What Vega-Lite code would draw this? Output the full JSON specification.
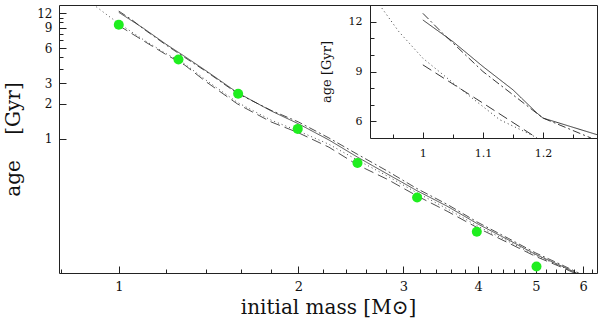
{
  "$schema": "https://vega.github.io/schema/vega-lite/v6.json",
  "autosize": {"type": "none"},
  "padding": {"left": 59, "top": 5, "right": 3, "bottom": 52},
  "width": 538,
  "height": 268,
  "background": "white",
  "config": {
    "view": {"stroke": "#222", "strokeWidth": 1},
    "axis": {"grid": false, "labelFont": "DejaVu Serif", "titleFont": "DejaVu Serif", "titleFontWeight": "normal", "labelColor": "#111", "titleColor": "#111", "tickColor": "#222", "domainColor": "#222", "tickWidth": 1, "labelFlush": false, "labelOverlap": false}
  },
  "datasets": {
    "main": [
      {"series": "solid", "mass": 1.0, "age": 12.2},
      {"series": "solid", "mass": 1.1, "age": 8.9},
      {"series": "solid", "mass": 1.2, "age": 6.5},
      {"series": "solid", "mass": 1.29, "age": 5.1},
      {"series": "solid", "mass": 1.4, "age": 3.85},
      {"series": "solid", "mass": 1.58, "age": 2.5},
      {"series": "solid", "mass": 1.8, "age": 1.74},
      {"series": "solid", "mass": 2.0, "age": 1.35},
      {"series": "solid", "mass": 2.25, "age": 0.98},
      {"series": "solid", "mass": 2.51, "age": 0.7},
      {"series": "solid", "mass": 2.82, "age": 0.5},
      {"series": "solid", "mass": 3.16, "age": 0.36},
      {"series": "solid", "mass": 3.55, "age": 0.265},
      {"series": "solid", "mass": 4.0, "age": 0.186},
      {"series": "solid", "mass": 4.5, "age": 0.136},
      {"series": "solid", "mass": 5.0, "age": 0.102},
      {"series": "solid", "mass": 5.5, "age": 0.082},
      {"series": "solid", "mass": 5.85, "age": 0.0708},
      {"series": "dashdot", "mass": 1.0, "age": 12.5},
      {"series": "dashdot", "mass": 1.05, "age": 10.6},
      {"series": "dashdot", "mass": 1.1, "age": 8.8},
      {"series": "dashdot", "mass": 1.2, "age": 6.4},
      {"series": "dashdot", "mass": 1.29, "age": 5.0},
      {"series": "dashdot", "mass": 1.4, "age": 3.8},
      {"series": "dashdot", "mass": 1.58, "age": 2.46},
      {"series": "dashdot", "mass": 1.8, "age": 1.76},
      {"series": "dashdot", "mass": 2.0, "age": 1.4},
      {"series": "dashdot", "mass": 2.25, "age": 1.02},
      {"series": "dashdot", "mass": 2.51, "age": 0.74},
      {"series": "dashdot", "mass": 2.82, "age": 0.53},
      {"series": "dashdot", "mass": 3.16, "age": 0.375},
      {"series": "dashdot", "mass": 3.55, "age": 0.275},
      {"series": "dashdot", "mass": 4.0, "age": 0.192},
      {"series": "dashdot", "mass": 4.5, "age": 0.14},
      {"series": "dashdot", "mass": 5.0, "age": 0.105},
      {"series": "dashdot", "mass": 5.5, "age": 0.084},
      {"series": "dashdot", "mass": 5.9, "age": 0.0708},
      {"series": "dashed", "mass": 1.0, "age": 9.4},
      {"series": "dashed", "mass": 1.1, "age": 6.95},
      {"series": "dashed", "mass": 1.2, "age": 5.3},
      {"series": "dashed", "mass": 1.29, "age": 4.3},
      {"series": "dashed", "mass": 1.4, "age": 3.1},
      {"series": "dashed", "mass": 1.58, "age": 2.0},
      {"series": "dashed", "mass": 1.8, "age": 1.4},
      {"series": "dashed", "mass": 2.0, "age": 1.13},
      {"series": "dashed", "mass": 2.25, "age": 0.85},
      {"series": "dashed", "mass": 2.51, "age": 0.6},
      {"series": "dashed", "mass": 2.82, "age": 0.45},
      {"series": "dashed", "mass": 3.16, "age": 0.325},
      {"series": "dashed", "mass": 3.55, "age": 0.24},
      {"series": "dashed", "mass": 4.0, "age": 0.172},
      {"series": "dashed", "mass": 4.5, "age": 0.128},
      {"series": "dashed", "mass": 5.0, "age": 0.098},
      {"series": "dashed", "mass": 5.5, "age": 0.08},
      {"series": "dashed", "mass": 5.8, "age": 0.0708},
      {"series": "dotted", "mass": 0.917, "age": 13.6},
      {"series": "dotted", "mass": 0.96, "age": 11.4},
      {"series": "dotted", "mass": 1.0, "age": 9.8},
      {"series": "dotted", "mass": 1.1, "age": 7.1},
      {"series": "dotted", "mass": 1.2, "age": 5.4},
      {"series": "dotted", "mass": 1.29, "age": 4.4},
      {"series": "dotted", "mass": 1.4, "age": 3.2},
      {"series": "dotted", "mass": 1.58, "age": 2.06},
      {"series": "dotted", "mass": 1.8, "age": 1.45},
      {"series": "dotted", "mass": 2.0, "age": 1.17},
      {"series": "dotted", "mass": 2.25, "age": 0.9},
      {"series": "dotted", "mass": 2.51, "age": 0.66},
      {"series": "dotted", "mass": 2.82, "age": 0.48},
      {"series": "dotted", "mass": 3.16, "age": 0.345},
      {"series": "dotted", "mass": 3.55, "age": 0.252},
      {"series": "dotted", "mass": 4.0, "age": 0.178},
      {"series": "dotted", "mass": 4.5, "age": 0.132},
      {"series": "dotted", "mass": 5.0, "age": 0.1},
      {"series": "dotted", "mass": 5.5, "age": 0.081},
      {"series": "dotted", "mass": 5.85, "age": 0.0708}
    ],
    "points": [
      {"mass": 1.0, "age": 9.53},
      {"mass": 1.259, "age": 4.8},
      {"mass": 1.585, "age": 2.44},
      {"mass": 1.995, "age": 1.22},
      {"mass": 2.512, "age": 0.622},
      {"mass": 3.162, "age": 0.315},
      {"mass": 3.981, "age": 0.16},
      {"mass": 5.012, "age": 0.0805}
    ],
    "inset": [
      {"series": "solid", "mass": 1.0, "age": 12.1},
      {"series": "solid", "mass": 1.05, "age": 10.8},
      {"series": "solid", "mass": 1.1, "age": 9.3},
      {"series": "solid", "mass": 1.15, "age": 7.9},
      {"series": "solid", "mass": 1.19, "age": 6.5},
      {"series": "solid", "mass": 1.2, "age": 6.2},
      {"series": "solid", "mass": 1.29, "age": 5.2},
      {"series": "dashdot", "mass": 1.0, "age": 12.5},
      {"series": "dashdot", "mass": 1.033, "age": 11.3},
      {"series": "dashdot", "mass": 1.1, "age": 9.0},
      {"series": "dashdot", "mass": 1.15, "age": 7.6},
      {"series": "dashdot", "mass": 1.2, "age": 6.2},
      {"series": "dashdot", "mass": 1.28, "age": 5.0},
      {"series": "dashed", "mass": 1.0, "age": 9.4},
      {"series": "dashed", "mass": 1.1, "age": 7.1},
      {"series": "dashed", "mass": 1.19, "age": 5.0},
      {"series": "dotted", "mass": 0.928, "age": 13.0},
      {"series": "dotted", "mass": 0.96, "age": 11.4},
      {"series": "dotted", "mass": 1.0, "age": 9.8},
      {"series": "dotted", "mass": 1.061, "age": 8.0},
      {"series": "dotted", "mass": 1.128, "age": 6.1},
      {"series": "dotted", "mass": 1.18, "age": 5.2},
      {"series": "dotted", "mass": 1.19, "age": 5.0}
    ]
  },
  "layer": [
    {
      "layer": [
        {
          "data": {"name": "main"},
          "mark": {"type": "line", "color": "#222", "strokeWidth": 0.8, "clip": true},
          "encoding": {
            "x": {"field": "mass", "type": "quantitative",
              "scale": {"type": "log", "domain": [0.794, 6.33], "nice": false},
              "axis": {"orient": "bottom", "values": [1, 2, 3, 4, 5, 6], "format": "~g", "tickSize": -7, "labelPadding": 14, "labelFontSize": 13, "domain": false, "title": "initial mass [M⊙]", "titleFontSize": 20, "titlePadding": 4}},
            "y": {"field": "age", "type": "quantitative",
              "scale": {"type": "log", "domain": [0.0708, 14.1], "nice": false},
              "axis": {"orient": "left", "values": [1, 2, 3, 6, 9, 12], "format": "~g", "tickSize": -7, "labelPadding": 14, "labelFontSize": 12, "domain": false, "title": "age\u00a0\u00a0\u00a0\u00a0[Gyr]", "titleFontSize": 20, "titlePadding": 13}},
            "strokeDash": {"field": "series", "type": "nominal",
              "scale": {"domain": ["solid", "dashdot", "dashed", "dotted"], "range": [[1, 0], [8, 3, 2, 3], [10, 5], [1, 3]]},
              "legend": null}
          }
        },
        {
          "data": {"name": "points"},
          "mark": {"type": "circle", "size": 100, "opacity": 1, "color": "#1fee1f"},
          "encoding": {
            "x": {"field": "mass", "type": "quantitative",
              "scale": {"type": "log", "domain": [0.794, 6.33], "nice": false},
              "axis": {"orient": "bottom", "values": [0.8, 1.2, 1.4, 1.6, 1.8, 2.2, 2.4, 2.6, 2.8, 3.2, 3.4, 3.6, 3.8, 4.2, 4.4, 4.6, 4.8, 5.2, 5.4, 5.6, 5.8, 6.2], "labels": false, "tickSize": -4, "domain": false, "title": null}},
            "y": {"field": "age", "type": "quantitative",
              "scale": {"type": "log", "domain": [0.0708, 14.1], "nice": false},
              "axis": {"orient": "left", "values": [4, 5, 7, 8, 10, 11], "labels": false, "tickSize": -4, "domain": false, "title": null}}
          }
        }
      ],
      "resolve": {"axis": {"x": "independent", "y": "independent"}}
    },
    {
      "layer": [
        {
          "data": {"name": "inset"},
          "transform": [{"filter": "datum.series === 'solid' || datum.series === 'dashdot'"}],
          "mark": {"type": "line", "color": "#222", "strokeWidth": 0.9},
          "encoding": {
            "x": {"field": "mass", "type": "quantitative",
              "scale": {"type": "linear", "domain": [0.912, 1.29], "range": [311, 538], "nice": false, "zero": false},
              "axis": {"orient": "bottom", "offset": -135, "values": [1, 1.1, 1.2], "format": "~g", "tickSize": -6, "labelPadding": 15, "labelFontSize": 11, "domain": true, "title": null}},
            "y": {"field": "age", "type": "quantitative",
              "scale": {"type": "linear", "domain": [5, 13], "range": [133, 0], "nice": false, "zero": false},
              "axis": {"orient": "left", "offset": -311, "values": [6, 9, 12], "format": "~g", "tickSize": -6, "labelPadding": 14, "labelFontSize": 11, "domain": true, "title": "age [Gyr]", "titleFontSize": 13, "titlePadding": 15}},
            "strokeDash": {"field": "series", "type": "nominal",
              "scale": {"domain": ["solid", "dashdot", "dashed", "dotted"], "range": [[1, 0], [8, 3, 2, 3], [10, 5], [1, 3]]},
              "legend": null}
          }
        },
        {
          "data": {"name": "inset"},
          "transform": [{"filter": "datum.series === 'dashed' || datum.series === 'dotted'"}],
          "mark": {"type": "line", "color": "#222", "strokeWidth": 0.9},
          "encoding": {
            "x": {"field": "mass", "type": "quantitative",
              "scale": {"type": "linear", "domain": [0.912, 1.29], "range": [311, 538], "nice": false, "zero": false},
              "axis": {"orient": "bottom", "offset": -135, "values": [0.95, 1.05, 1.15, 1.25], "labels": false, "tickSize": -4, "domain": false, "title": null}},
            "y": {"field": "age", "type": "quantitative",
              "scale": {"type": "linear", "domain": [5, 13], "range": [133, 0], "nice": false, "zero": false},
              "axis": {"orient": "left", "offset": -311, "values": [7, 8, 10, 11], "labels": false, "tickSize": -4, "domain": false, "title": null}},
            "strokeDash": {"field": "series", "type": "nominal",
              "scale": {"domain": ["solid", "dashdot", "dashed", "dotted"], "range": [[1, 0], [8, 3, 2, 3], [10, 5], [1, 3]]},
              "legend": null}
          }
        }
      ],
      "resolve": {"axis": {"x": "independent", "y": "independent"}}
    }
  ],
  "resolve": {"scale": {"x": "independent", "y": "independent"}, "axis": {"x": "independent", "y": "independent"}}
}
